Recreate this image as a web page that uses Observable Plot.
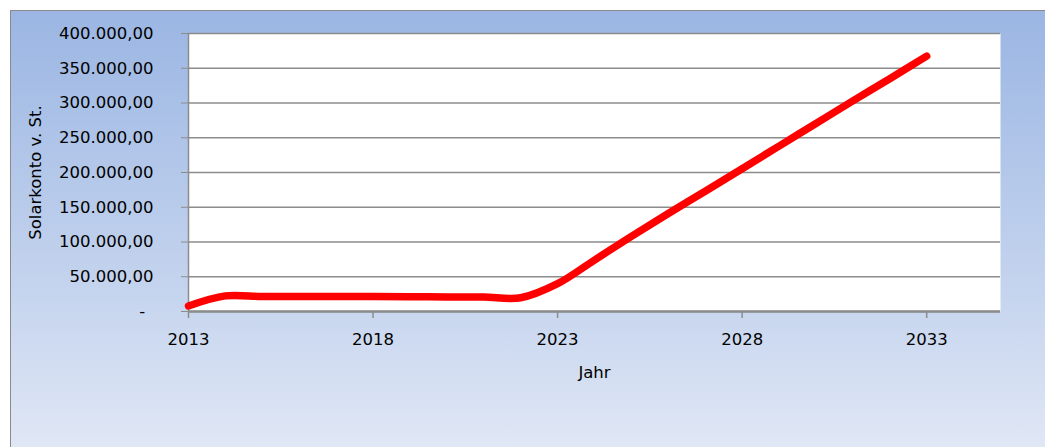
<!DOCTYPE html>
<html>
<head>
<meta charset="utf-8">
<script src="https://cdn.jsdelivr.net/npm/d3@7"></script>
<script src="https://cdn.jsdelivr.net/npm/@observablehq/plot@0.6"></script>
<style>
  html, body { margin: 0; padding: 0; overflow: hidden; background: white; }
  #wrap { position: relative; width: 1045px; height: 447px; }
  #bg { position: absolute; left: 10px; top: 10px; right: 0; bottom: 0;
        border-left: 1.5px solid #8a8a8a; border-top: 1.5px solid #8a8a8a;
        background: linear-gradient(to bottom, #9bb6e3 0%, #c9d7ef 70%, #e0e7f5 100%); }
  #chart { position: absolute; left: 0; top: 0; }
</style>
</head>
<body>
<div id="wrap"><div id="bg"></div><div id="chart"></div></div>
<script>
const years  = [2013, 2014, 2015, 2016, 2017, 2018, 2019, 2020, 2021, 2022, 2023, 2024, 2025, 2026, 2027, 2028, 2029, 2030, 2031, 2032, 2033];
const values = [8000, 22500, 21500, 21500, 21500, 21500, 21300, 21000, 20800, 19800, 40000, 74000, 108000, 141000, 173000, 205500, 238000, 270500, 303000, 335000, 367500];
const yTicks = [0, 50000, 100000, 150000, 200000, 250000, 300000, 350000, 400000];
const xTicks = [2013, 2018, 2023, 2028, 2033];
const xLabel = "Jahr";
const yLabel = "Solarkonto v. St.";

const data = years.map((y, i) => ({year: y, value: values[i]}));
const deFmt = v => v === 0 ? "-\u2002" :
  d3.format(",.2f")(v).replace(/,/g, "X").replace(/\./g, ",").replace(/X/g, ".");

const chart = Plot.plot({
  width: 1045,
  height: 447,
  marginLeft: 188,
  marginRight: 45,
  marginTop: 33,
  marginBottom: 136,
  style: {background: "transparent", fontFamily: "DejaVu Sans", fontSize: "16.5px", color: "black"},
  x: {domain: [2013, 2035]},
  y: {domain: [0, 400000]},
  marks: [
    Plot.frame({fill: "white", stroke: null}),
    Plot.ruleY(yTicks, {stroke: "#8c8c8c", strokeWidth: 1.5}),
    Plot.ruleX([2013], {stroke: "#8c8c8c", strokeWidth: 1.5}),
    Plot.ruleY([0], {stroke: "#8c8c8c", strokeWidth: 2.5}),
    Plot.axisY({ticks: yTicks, tickSize: 7, stroke: "#8c8c8c", tickFormat: () => "", label: null}),
    Plot.axisY({ticks: yTicks, tickSize: 0, tickPadding: 35, tickFormat: deFmt, label: null, fill: "black"}),
    Plot.axisX({ticks: xTicks, tickSize: 7, stroke: "#8c8c8c", strokeWidth: 1.5, tickFormat: () => "", label: null}),
    Plot.axisX({ticks: xTicks, tickSize: 0, tickPadding: 22, tickFormat: d => String(d), label: null, fill: "black"}),
    Plot.line(data, {x: "year", y: "value", stroke: "#ff0000", strokeWidth: 7.5, curve: "catmull-rom", strokeLinecap: "round", strokeLinejoin: "round"}),
    Plot.text([xLabel], {frameAnchor: "bottom", dy: 61, fill: "black", lineAnchor: "middle"}),
    Plot.text([yLabel], {frameAnchor: "left", dx: -153, rotate: -90, fill: "black", textAnchor: "middle", lineAnchor: "middle"})
  ]
});
document.getElementById("chart").appendChild(chart);
</script>
</body>
</html>
